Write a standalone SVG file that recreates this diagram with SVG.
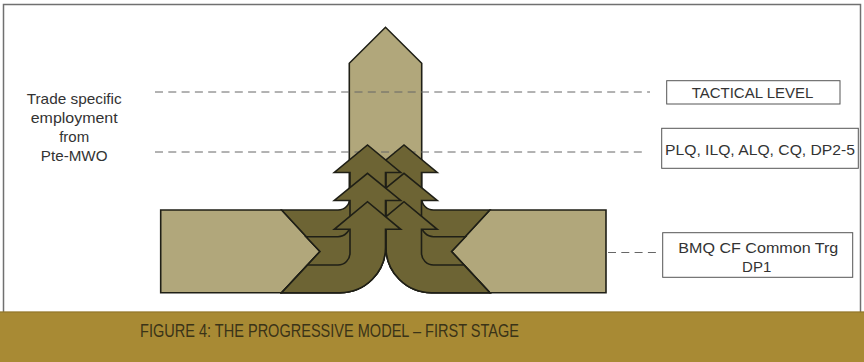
<svg xmlns="http://www.w3.org/2000/svg" width="864" height="362" viewBox="0 0 864 362">
<style>
.light{fill:#b1a77b;stroke:#1f1f16;stroke-width:1.6;stroke-linejoin:miter}
.dark{fill:#6d6434;stroke:#1f1f16;stroke-width:1.6;stroke-linejoin:miter}
.dash{stroke:#666;stroke-width:1;stroke-dasharray:8 5.3;fill:none}
.box{fill:#fff;stroke:#555;stroke-width:1}
.lbl{font-family:"Liberation Sans",Arial,sans-serif;font-size:15px;fill:#333;text-anchor:middle}
.cap{font-family:"Liberation Sans",Arial,sans-serif;font-size:18px;fill:#3a3318}
</style>
<defs>
<g id="arrows">
<path class="dark" d="M281.7 210 L338 210 A12 12 0 0 0 350 198 L350 172.5 L334.3 172.5 L367.5 145 L400.7 172.5 L385.5 172.5 L385.5 247 A45.5 45.5 0 0 1 340 292.7 L281.7 292.7 L320 251.5 Z"/>
<path class="dark" d="M306 236.7 L338 236.7 A12 12 0 0 0 350 224.7 L350 200.5 L334.3 200.5 L367.5 173.3 L400.7 200.5 L385.5 200.5 L385.5 247 A45.5 45.5 0 0 1 340 292.7 L281.7 292.7 L320 251.5 Z"/>
<path class="dark" d="M307.6 265 L338 265 A12 12 0 0 0 350 253 L350 229.3 L334.3 229.3 L367.5 201.7 L400.7 229.3 L385.5 229.3 L385.5 247 A45.5 45.5 0 0 1 340 292.7 L281.7 292.7 Z"/>
</g>
</defs>
<rect x="3.5" y="4.5" width="857" height="340" fill="#fff" stroke="#707070" stroke-width="1.5"/>

<g id="tactical-arrow">
<path class="light" d="M349.3 225 L349.3 63.3 L385.5 27.3 L421.7 63.3 L421.7 225 Z"/>
</g>

<g id="connectors">
<line class="dash" x1="155" y1="92" x2="650" y2="92"/>
<line class="dash" x1="155" y1="152" x2="643" y2="152"/>
<line class="dash" x1="608" y1="252.5" x2="657" y2="252.5"/>
</g>

<g id="left-box">
<polygon class="light" points="160.7,210 281.7,210 320,251.5 281.7,292.7 160.7,292.7"/>
</g>
<g id="right-box">
<polygon class="light" points="606,210 489.8,210 451.5,251.5 489.8,292.7 606,292.7"/>
</g>

<g id="right-arrows">
<use href="#arrows" transform="matrix(-1 0 0 1 771.5 0)"/>
</g>
<g id="left-arrows">
<use href="#arrows"/>
</g>

<g id="left-label">
<text class="lbl" x="74.2" y="104" textLength="95" lengthAdjust="spacingAndGlyphs">Trade specific</text>
<text class="lbl" x="74.2" y="123.3" textLength="87" lengthAdjust="spacingAndGlyphs">employment</text>
<text class="lbl" x="74.2" y="141.7">from</text>
<text class="lbl" x="74.2" y="161" textLength="66.7" lengthAdjust="spacingAndGlyphs">Pte-MWO</text>
</g>

<g id="tactical-level">
<rect class="box" x="666.7" y="80.7" width="173.3" height="23.3"/>
<text class="lbl" x="752.5" y="98.3" textLength="121.7" lengthAdjust="spacingAndGlyphs">TACTICAL LEVEL</text>
</g>
<g id="plq">
<rect class="box" x="661.7" y="128.3" width="196.6" height="40"/>
<text class="lbl" x="760" y="155" textLength="190" lengthAdjust="spacingAndGlyphs">PLQ, ILQ, ALQ, CQ, DP2-5</text>
</g>
<g id="bmq">
<rect class="box" x="662.7" y="232.7" width="190" height="44.6"/>
<text class="lbl" x="758.3" y="253.3" textLength="160" lengthAdjust="spacingAndGlyphs">BMQ CF Common Trg</text>
<text class="lbl" x="756.7" y="271.7">DP1</text>
</g>

<g id="caption">
<rect x="0" y="311.7" width="864" height="50.3" fill="#a88a34"/>
<line x1="0" y1="312" x2="864" y2="312" stroke="#8d7328" stroke-width="1"/>
<text class="cap" x="140" y="336.5" textLength="379" lengthAdjust="spacingAndGlyphs">FIGURE 4: THE PROGRESSIVE MODEL – FIRST STAGE</text>
</g>
</svg>
